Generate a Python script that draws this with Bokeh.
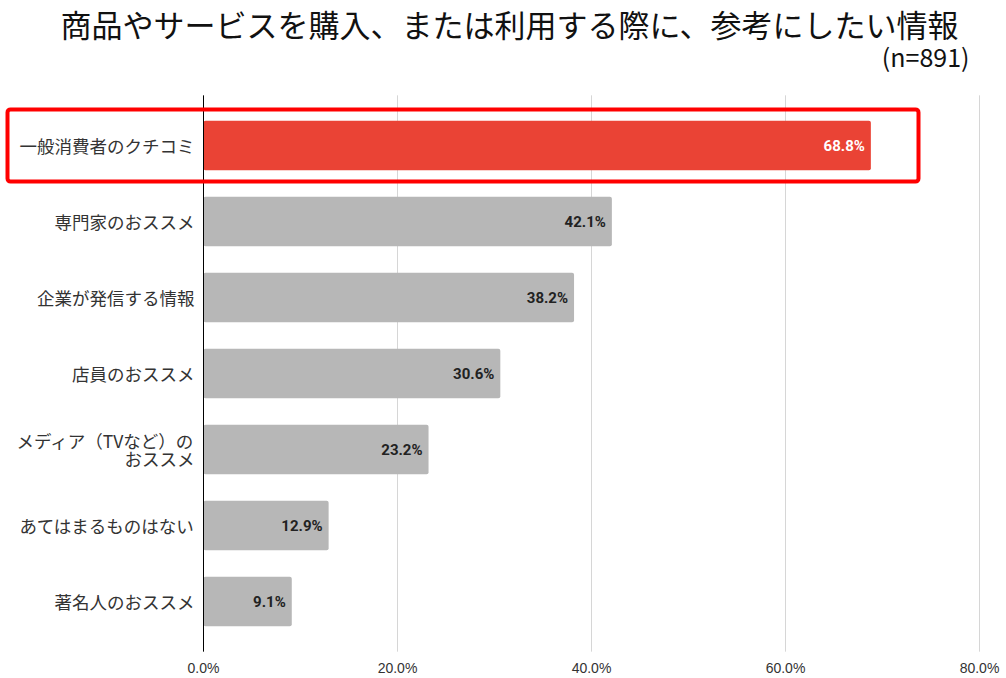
from bokeh.plotting import figure
from bokeh.models import ColumnDataSource, Range1d
from bokeh.core.properties import value
from bokeh.embed import file_html
from bokeh.resources import INLINE

# ---- data ----
categories = ["一般消費者のクチコミ", "専門家のおススメ", "企業が発信する情報", "店員のおススメ",
              "メディア（TVなど）の\nおススメ", "あてはまるものはない", "著名人のおススメ"]
values = [68.8, 42.1, 38.2, 30.6, 23.2, 12.9, 9.1]
ticks = [0, 20, 40, 60, 80]
tick_labels = ["0.0%", "20.0%", "40.0%", "60.0%", "80.0%"]
title_text = "商品やサービスを購入、または利用する際に、参考にしたい情報"
subtitle_text = "(n=891)"
highlight_index = 0

# ---- layout constants ----
W, H = 1006, 678
x0_px = 203.0          # pixel of 0%
px_per_unit = 9.7      # pixels per 1%
y0_px = 145.0          # pixel of first category centre
px_per_cat = 76.0

JP = "Noto Sans CJK JP"

p = figure(width=W, height=H, output_backend="svg", toolbar_location=None,
           x_axis_location=None, y_axis_location=None, min_border=0,
           x_range=Range1d(-x0_px / px_per_unit, (W - x0_px) / px_per_unit),
           y_range=Range1d((H - y0_px) / px_per_cat, -y0_px / px_per_cat))
p.outline_line_color = None
p.grid.visible = False
p.background_fill_color = "white"
p.border_fill_color = "white"

n = len(categories)
ys = list(range(n))
top_y = -0.66
bot_y = n - 1 + 0.66

# grid lines
grid_x = [t for t in ticks if t != 0]
p.segment(x0=grid_x, x1=grid_x, y0=[top_y] * len(grid_x), y1=[bot_y] * len(grid_x),
          line_color="#d6d6d6", line_width=1)

# bars
colors = ["#ea4335" if i == highlight_index else "#b7b7b7" for i in ys]
label_colors = ["#ffffff" if i == highlight_index else "#222222" for i in ys]
src = ColumnDataSource(dict(y=ys, v=values, c=colors, lc=label_colors,
                            lab=[f"{v:.1f}%" for v in values], cat=categories,
                            zero=[0] * n))
p.hbar(y="y", left=0, right="v", height=0.65, fill_color="c", line_color=None,
       border_radius=2, source=src)

# zero line
p.segment(x0=[0], x1=[0], y0=[top_y], y1=[bot_y], line_color="#000000", line_width=1)

# value labels
p.text(x="v", y="y", text="lab", x_offset=-6, text_align="right", text_baseline="middle",
       text_font=value("Roboto"), text_font_style="bold", text_font_size="15px",
       text_color="lc", source=src)

# category labels
p.text(x="zero", y="y", text="cat", x_offset=-9, text_align="right", text_baseline="middle",
       text_font=value(JP), text_font_size="17.5px", text_line_height=0.72,
       text_color="#333333", source=src)

# x tick labels
tick_y = (667 - y0_px) / px_per_cat
p.text(x=ticks, y=[tick_y] * len(ticks), text=tick_labels, text_align="center",
       text_baseline="middle", text_font=value("Liberation Sans"), text_font_size="14px",
       text_color="#333333")

# title and subtitle
p.text(x=[(509 - x0_px) / px_per_unit], y=[(23 - y0_px) / px_per_cat], text=[title_text],
       text_align="center", text_baseline="middle", text_font=value(JP),
       text_font_size="31px", text_color="#111111")
p.text(x=[(969 - x0_px) / px_per_unit], y=[(55 - y0_px) / px_per_cat], text=[subtitle_text],
       text_align="right", text_baseline="middle", text_font=value(JP),
       text_font_size="25px", text_color="#111111")

# highlight box around first category
p.quad(left=[(7 - x0_px) / px_per_unit], right=[(918 - x0_px) / px_per_unit],
       top=[highlight_index - 0.475], bottom=[highlight_index + 0.475],
       fill_color=None, line_color="#ff0000", line_width=4, border_radius=3)

open("out.html", "w").write(file_html(p, INLINE))
